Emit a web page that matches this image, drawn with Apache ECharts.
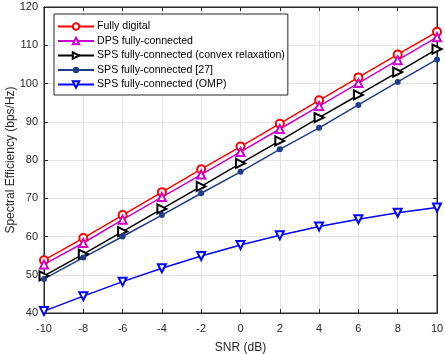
<!DOCTYPE html>
<html>
<head>
<meta charset="utf-8">
<script src="https://cdn.jsdelivr.net/npm/echarts@6/dist/echarts.min.js"></script>
<style>
    html, body { margin: 0; padding: 0; background: #fff; }
    #chart { width: 445px; height: 354px; }
</style>
</head>
<body>
<div id="chart"></div>
<script>
    // SNR values (dB)
    var snr = [-10, -8, -6, -4, -2, 0, 2, 4, 6, 8, 10];

    var fullyDigital = [53.8, 59.6, 65.6, 71.6, 77.6, 83.5, 89.5, 95.6, 101.6, 107.6, 113.5];
    var dpsFully = [52.7, 58.3, 64.4, 70.3, 76.2, 82.1, 88.1, 94.1, 100.1, 106.1, 112.1];
    var spsConvex = [49.7, 55.4, 61.3, 67.2, 73.1, 79.1, 85.0, 91.1, 97.0, 103.0, 109.0];
    var sps27 = [48.9, 54.5, 60.0, 65.6, 71.3, 76.9, 82.8, 88.4, 94.4, 100.4, 106.3];
    var spsOmp = [40.5, 44.4, 48.2, 51.7, 54.9, 57.8, 60.3, 62.6, 64.5, 66.2, 67.6];

    var names = [
        'Fully digital',
        'DPS fully-connected',
        'SPS fully-connected (convex relaxation)',
        'SPS fully-connected [27]',
        'SPS fully-connected (OMP)'
    ];

    function pairs(vals) {
        return snr.map(function (x, i) { return [x, vals[i]]; });
    }

    function lineSeries(name, vals, color, symbol, size, rotate, bw) {
        return {
            name: name,
            type: 'line',
            data: pairs(vals),
            symbol: symbol,
            symbolSize: size,
            symbolRotate: rotate || 0,
            showAllSymbol: true,
            lineStyle: { color: color, width: 1.5 },
            itemStyle: { color: color, borderColor: color, borderWidth: bw },
            emphasis: { disabled: true },
            z: 3
        };
    }

    var txt = '#262626';
    var chart = echarts.init(document.getElementById('chart'));
    chart.setOption({
        animation: false,
        textStyle: { fontFamily: 'Liberation Sans, Arial, sans-serif', color: txt },
        grid: {
            left: 44, right: 8, top: 7, bottom: 41,
            outerBoundsMode: 'none',
            show: true, borderColor: txt, borderWidth: 1, backgroundColor: '#fff'
        },
        legend: {
            orient: 'vertical',
            left: 54, top: 14,
            data: names,
            itemWidth: 36, itemHeight: 8,
            itemGap: 3.5,
            padding: [7, 3, 5, 3],
            backgroundColor: '#fff',
            borderColor: txt, borderWidth: 1,
            textStyle: { fontSize: 10.6, color: '#000', padding: [0, 0, 0, -2] }
        },
        xAxis: [{
            type: 'value', min: -10, max: 10, interval: 2,
            name: 'SNR (dB)', nameLocation: 'middle', nameGap: 29,
            nameMoveOverlap: false,
            nameTextStyle: { fontSize: 12, color: txt },
            axisLine: { show: true, onZero: false, lineStyle: { color: txt } },
            axisTick: { inside: true, length: 4, lineStyle: { color: txt } },
            axisLabel: { fontSize: 11, color: txt, margin: 10 },
            splitLine: { show: true, lineStyle: { color: '#e3e3e3' } }
        }, {
            type: 'value', min: -10, max: 10, interval: 2, position: 'top',
            axisLine: { show: true, onZero: false, lineStyle: { color: txt } },
            axisTick: { inside: true, length: 4, lineStyle: { color: txt } },
            axisLabel: { show: false }, splitLine: { show: false }
        }],
        yAxis: [{
            type: 'value', min: 40, max: 120, interval: 10,
            name: 'Spectral Efficiency (bps/Hz)', nameLocation: 'middle', nameGap: 27,
            nameMoveOverlap: false,
            nameTextStyle: { fontSize: 12, color: txt },
            axisLine: { show: true, onZero: false, lineStyle: { color: txt } },
            axisTick: { inside: true, length: 4, lineStyle: { color: txt } },
            axisLabel: { fontSize: 11, color: txt, margin: 6 },
            splitLine: { show: true, lineStyle: { color: '#e3e3e3' } }
        }, {
            type: 'value', min: 40, max: 120, interval: 10, position: 'right',
            axisLine: { show: true, onZero: false, lineStyle: { color: txt } },
            axisTick: { inside: true, length: 4, lineStyle: { color: txt } },
            axisLabel: { show: false }, splitLine: { show: false }
        }],
        series: [
            lineSeries(names[0], fullyDigital, '#ff0000', 'emptyCircle', 8, 0, 1.5),
            lineSeries(names[1], dpsFully, '#cc00cc', 'emptyTriangle', 8, 0, 1.5),
            lineSeries(names[2], spsConvex, '#000000', 'emptyTriangle', 9, -90, 1.5),
            lineSeries(names[3], sps27, '#1f3c8c', 'circle', 6, 0, 0),
            lineSeries(names[4], spsOmp, '#0000ff', 'emptyTriangle', 8, 180, 1.5)
        ]
    });
</script>
</body>
</html>
